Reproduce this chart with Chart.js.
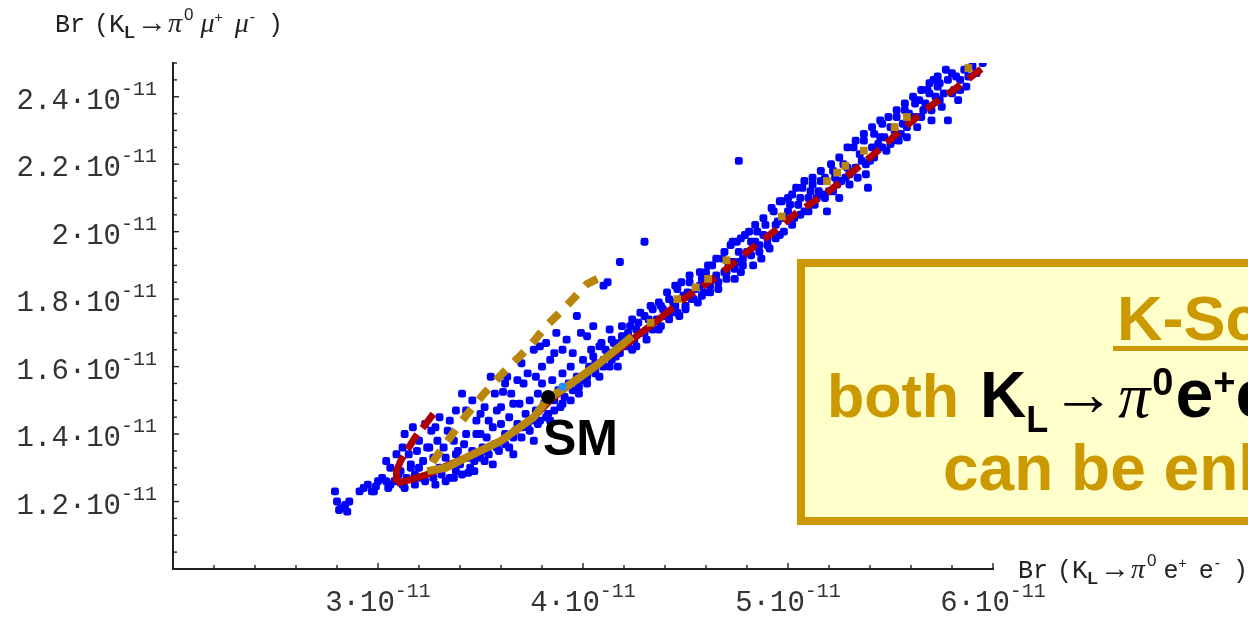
<!DOCTYPE html>
<html>
<head>
<meta charset="utf-8">
<script src="https://cdn.jsdelivr.net/npm/chart.js@4.4.1/dist/chart.umd.min.js"></script>
<style>
  html, body { margin: 0; padding: 0; background: #fff; }
  #wrap { width: 1248px; height: 617px; }
</style>
</head>
<body>
<div id="wrap"><canvas id="brChart" width="1248" height="617"></canvas></div>
<script>
// all branching ratios in units of 1e-11
const xTickValues = [3, 4, 5, 6];
const yTickValues = [1.2, 1.4, 1.6, 1.8, 2, 2.2, 2.4];

const smPoint = [3.83, 1.51];
const cyanPoint = [3.90, 1.54];

// scan points: [Br(KL->pi0 e+e-), Br(KL->pi0 mu+mu-)]
const bluePoints = [
  [2.79,1.23],[2.80,1.20],[2.82,1.18],[2.84,1.19],[2.86,1.20],[2.85,1.17],[2.81,1.175],[2.91,1.23],
  [2.93,1.24],[2.95,1.25],[2.97,1.23],[2.99,1.245],[3.00,1.26],[2.98,1.23],
  [3.02,1.27],[3.04,1.26],[3.04,1.32],[3.06,1.25],[3.08,1.26],[3.10,1.28],[3.11,1.29],[3.12,1.25],
  [3.14,1.27],[3.16,1.30],[3.16,1.31],[3.15,1.34],[3.19,1.35],[3.18,1.28],[3.20,1.30],[3.22,1.32],[3.21,1.27],
  [3.23,1.43],[3.26,1.41],[3.25,1.36],[3.27,1.33],[3.29,1.38],[3.30,1.30],[3.32,1.36],[3.31,1.28],
  [3.34,1.41],[3.33,1.33],[3.35,1.27],[3.36,1.31],[3.37,1.38],[3.38,1.34],[3.39,1.35],[3.38,1.29],[3.40,1.31],
  [3.41,1.52],[3.42,1.37],[3.43,1.40],[3.44,1.33],[3.45,1.30],[3.46,1.35],[3.47,1.29],[3.48,1.44],
  [3.50,1.46],[3.50,1.40],[3.51,1.36],[3.52,1.32],[3.53,1.39],[3.54,1.34],[3.55,1.57],[3.56,1.42],
  [3.56,1.31],[3.57,1.37],[3.58,1.47],[3.59,1.35],[3.60,1.43],
  [3.61,1.525],[3.62,1.40],[3.63,1.57],[3.64,1.45],[3.64,1.36],[3.66,1.49],[3.66,1.34],[3.67,1.41],
  [3.68,1.43],[3.69,1.49],[3.70,1.61],[3.70,1.39],[3.72,1.46],[3.73,1.42],[3.74,1.50],[3.75,1.44],
  [3.76,1.38],[3.76,1.65],[3.77,1.47],[3.78,1.52],[3.79,1.66],[3.79,1.44],
  [3.80,1.55],[3.81,1.49],[3.82,1.67],[3.83,1.46],[3.84,1.44],[3.85,1.56],[3.86,1.50],[3.87,1.70],
  [3.88,1.53],[3.89,1.48],[3.90,1.58],[3.91,1.51],[3.93,1.55],[3.94,1.60],[3.95,1.53],[3.95,1.64],
  [3.97,1.75],[3.97,1.57],[3.98,1.52],[4.00,1.62],[4.00,1.56],
  [4.02,1.55],[4.03,1.60],[4.05,1.63],[4.06,1.58],[4.08,1.66],[4.08,1.57],[4.10,1.62],[4.11,1.65],
  [4.13,1.71],[4.13,1.60],[4.15,1.67],[4.16,1.63],[4.17,1.60],[4.18,1.91],[4.19,1.69],[4.20,1.66],
  [4.10,1.84],[4.12,1.85],
  [4.22,1.70],[4.23,1.72],[4.24,1.65],[4.25,1.68],[4.27,1.73],[4.28,1.70],[4.30,1.97],[4.30,1.75],
  [4.31,1.68],[4.33,1.72],[4.34,1.77],[4.36,1.74],[4.37,1.71],[4.38,1.78],[4.40,1.75],
  [4.42,1.80],[4.43,1.76],[4.45,1.78],[4.46,1.83],[4.47,1.75],[4.49,1.81],[4.50,1.78],[4.52,1.85],
  [4.53,1.80],[4.55,1.83],[4.56,1.79],[4.58,1.86],[4.59,1.82],[4.60,1.88],
  [4.62,1.84],[4.63,1.90],[4.65,1.87],[4.66,1.83],[4.68,1.92],[4.69,1.88],[4.70,1.86],[4.72,1.96],
  [4.73,1.91],[4.74,1.89],[4.75,1.97],[4.76,1.94],[4.77,1.88],[4.78,1.92],[4.79,1.99],[4.80,1.94],
  [4.76,2.21],
  [4.82,1.97],[4.83,1.90],[4.85,2.00],[4.86,1.96],[4.87,1.92],[4.89,2.02],[4.90,1.98],[4.91,1.95],
  [4.93,2.06],[4.94,2.02],[4.96,1.99],[4.97,2.09],[4.98,2.04],[5.00,2.06],
  [5.02,2.11],[5.03,2.04],[5.05,2.08],[5.07,2.13],[5.08,2.06],[5.10,2.10],[5.12,2.14],[5.13,2.08],
  [5.15,2.12],[5.17,2.11],[5.18,2.16],[5.20,2.12],[5.19,2.06],
  [5.22,2.18],[5.24,2.14],[5.25,2.10],[5.27,2.20],[5.28,2.16],[5.30,2.17],[5.32,2.25],[5.33,2.19],
  [5.35,2.23],[5.37,2.27],[5.38,2.17],[5.39,2.13],[5.40,2.21],
  [5.42,2.29],[5.44,2.26],[5.46,2.32],[5.47,2.28],[5.48,2.24],[5.50,2.31],[5.51,2.27],[5.53,2.34],
  [5.55,2.29],[5.56,2.32],[5.57,2.36],[5.58,2.28],[5.60,2.33],
  [5.62,2.38],[5.63,2.31],[5.65,2.34],[5.67,2.38],[5.68,2.42],[5.70,2.36],[5.71,2.45],[5.72,2.40],
  [5.74,2.44],[5.75,2.37],[5.76,2.41],[5.78,2.45],[5.78,2.33],
  [5.80,2.47],[5.81,2.42],[5.83,2.39],[5.84,2.45],[5.86,2.48],[5.87,2.43],[5.88,2.46],[5.90,2.49],
  [5.92,2.47],[5.95,2.50]
];

// denser part of the scan around the turning points and along the band
const blueBand = [
  [3.05,1.24],[3.13,1.24],[3.18,1.25],[3.23,1.26],[3.27,1.27],[3.28,1.25],[3.33,1.26],[3.37,1.27],
  [3.41,1.28],[3.44,1.285],[3.06,1.30],[3.09,1.34],[3.12,1.36],[3.13,1.40],[3.17,1.42],[3.20,1.38],
  [3.24,1.36],[3.28,1.42],[3.30,1.45],[3.35,1.44],[3.38,1.47],[3.43,1.47],[3.46,1.50],[3.48,1.40],
  [3.52,1.48],[3.54,1.44],[3.57,1.52],[3.60,1.48],[3.62,1.55],[3.65,1.52],[3.68,1.56],[3.71,1.55],
  [3.73,1.58],[3.77,1.57],[3.80,1.60],[3.84,1.62],[3.86,1.64],[3.90,1.65],[3.92,1.68],[3.99,1.70],
  [4.02,1.69],[4.05,1.72],
  [3.47,1.32],[3.50,1.33],[3.53,1.35],[3.58,1.36],[3.62,1.37],[3.66,1.39],[3.70,1.42],[3.74,1.41],
  [3.78,1.43],[3.82,1.45],[3.86,1.47],[3.90,1.49],[3.94,1.50],[3.98,1.54],[4.02,1.57],[4.06,1.59],
  [4.10,1.60],[4.14,1.62],[4.18,1.64],[4.22,1.66],[4.26,1.66],[4.30,1.70],[4.34,1.71],[4.38,1.72],
  [4.42,1.74],[4.46,1.76],[4.50,1.77],[4.54,1.80],[4.58,1.81],[4.62,1.82],[4.66,1.85],[4.70,1.88],
  [4.74,1.86],[4.78,1.90],[4.82,1.93],[4.86,1.94],[4.90,1.96],[4.94,1.98],[4.98,2.00],[5.02,2.02],
  [5.06,2.05],[5.10,2.06],[5.14,2.10],[5.18,2.10],[5.22,2.12],[5.26,2.15],[5.30,2.14],[5.34,2.16],
  [5.38,2.20],[5.42,2.22],[5.46,2.25],[5.50,2.26],[5.54,2.27],[5.58,2.31],[5.62,2.34],[5.66,2.36],
  [5.70,2.33],[5.74,2.39],[5.80,2.41],[5.84,2.42],
  [4.04,1.65],[4.09,1.67],[4.14,1.68],[4.19,1.72],[4.24,1.74],[4.28,1.76],[4.33,1.78],[4.37,1.79],
  [4.41,1.82],[4.45,1.84],[4.48,1.85],[4.52,1.87],[4.57,1.88],[4.61,1.90],[4.65,1.92],[4.69,1.94],
  [4.73,1.97],[4.77,1.98],[4.81,2.00],[4.84,2.02],[4.88,2.04],[4.92,2.07],[4.96,2.09],[5.00,2.10],
  [5.04,2.13],[5.08,2.15],[5.12,2.16],[5.16,2.18],[5.21,2.20],[5.25,2.22],[5.29,2.25],[5.33,2.27],
  [5.37,2.29],[5.41,2.31],[5.45,2.33],[5.49,2.34],[5.53,2.36],[5.57,2.38],[5.61,2.40],[5.65,2.42],
  [5.69,2.44],[5.73,2.46],[5.77,2.48],
  [4.06,1.61],[4.12,1.64],[4.18,1.67],[4.26,1.71],[4.32,1.74],[4.39,1.77],[4.44,1.79],[4.51,1.82],
  [4.57,1.84],[4.64,1.86],[4.71,1.90],[4.76,1.91],[4.84,1.97],[4.88,1.99],[4.95,2.03],[5.01,2.08],
  [5.06,2.10],[5.11,2.12],[5.16,2.15],[5.23,2.16],[5.29,2.19],[5.36,2.21],[5.41,2.25],[5.45,2.28],
  [5.52,2.30],[5.59,2.35],[5.64,2.39],[5.69,2.41],[5.73,2.43],[5.82,2.46]
];

// red branch: short upper arm, turning point, then along the band
const redCurve = [
  [3.27,1.46],[3.22,1.42],[3.18,1.39],[3.15,1.36],[3.11,1.32],[3.09,1.29],[3.09,1.255],
  [3.16,1.265],[3.24,1.28],[3.35,1.31],[3.43,1.33],[3.60,1.38],[3.76,1.45],[3.84,1.50],[3.92,1.54],
  [4.08,1.61],[4.24,1.68],[4.38,1.745],[4.49,1.80],[4.65,1.865],[4.77,1.925],[4.93,2.0],[5.04,2.055],
  [5.19,2.115],[5.32,2.18],[5.42,2.23],[5.55,2.30],[5.69,2.37],[5.83,2.43],[5.96,2.49]
];
const redTurn = 6;

// gold branch: upper arm, turning point, lower arm, then sparse points up the band
const goldCurve = [
  [4.07,1.86],[4.02,1.845],[3.92,1.78],[3.82,1.72],[3.74,1.66],[3.60,1.575],[3.51,1.515],[3.41,1.44],
  [3.34,1.38],[3.27,1.32],[3.24,1.29],
  [3.33,1.30],[3.43,1.33],[3.60,1.38],[3.76,1.45],[3.83,1.505],[3.92,1.54],[4.08,1.61],[4.24,1.69],
  [4.33,1.73],[4.46,1.80],[4.55,1.835],[4.61,1.86],[4.70,1.915],[4.97,2.045],[5.19,2.15],[5.24,2.175],
  [5.28,2.195],[5.37,2.24],[5.52,2.31],[5.58,2.34],[5.88,2.485]
];
const goldTurn = 10;

const GOLD = '#CC9900';
const MONO = '"Liberation Mono", "DejaVu Sans Mono", monospace';
const SANS = '"Liberation Sans", Arial, sans-serif';
const SERIF = '"Liberation Serif", "DejaVu Serif", serif';

const toXY = arr => arr.map(([x, y]) => ({ x, y }));

function fmt(v) {
  return String(Number(v.toFixed(1)));
}

// draws a run of text pieces one after another, returns end x
function drawRich(ctx, x, baseline, parts) {
  parts.forEach(p => {
    x += p.gap || 0;
    ctx.font = p.font;
    ctx.fillStyle = p.color || '#222';
    ctx.fillText(p.t, x, baseline + (p.dy || 0));
    x += ctx.measureText(p.t).width;
  });
  return x;
}

function richWidth(ctx, parts) {
  let w = 0;
  parts.forEach(p => { ctx.font = p.font; w += (p.gap || 0) + ctx.measureText(p.t).width; });
  return w;
}

function tickParts(v) {
  return [
    { t: fmt(v) + '\u00b710', font: '29px ' + MONO, color: '#333' },
    { t: '-11', font: '20px ' + MONO, dy: -14, color: '#333' }
  ];
}

const decor = {
  id: 'decor',
  afterDatasetsDraw(chart) {
    const ctx = chart.ctx;
    const xs = chart.scales.x, ys = chart.scales.y, area = chart.chartArea;
    ctx.save();
    ctx.textBaseline = 'alphabetic';
    ctx.textAlign = 'left';

    // inward tick marks
    ctx.strokeStyle = '#222';
    ctx.lineWidth = 1.4;
    xs.ticks.forEach(t => {
      if (t.value <= xs.min + 1e-6) return;
      const major = Math.abs(t.value - Math.round(t.value)) < 1e-6;
      const px = xs.getPixelForValue(t.value);
      ctx.beginPath();
      ctx.moveTo(px, area.bottom);
      ctx.lineTo(px, area.bottom - (major ? 6 : 4));
      ctx.stroke();
    });
    ys.ticks.forEach(t => {
      if (t.value <= ys.min + 1e-6) return;
      const major = Math.abs(t.value * 5 - Math.round(t.value * 5)) < 1e-6;
      const py = ys.getPixelForValue(t.value);
      ctx.beginPath();
      ctx.moveTo(area.left, py);
      ctx.lineTo(area.left + (major ? 6 : 4), py);
      ctx.stroke();
    });

    // tick labels
    xTickValues.forEach(v => {
      const parts = tickParts(v);
      const w = richWidth(ctx, parts);
      const px = xs.getPixelForValue(v);
      drawRich(ctx, px - w / 2, 611, parts);
    });
    yTickValues.forEach(v => {
      const parts = tickParts(v);
      const w = richWidth(ctx, parts);
      const py = ys.getPixelForValue(v);
      drawRich(ctx, 157 - w, py + 12, parts);
    });

    // axis titles
    const title = (lepton, italic) => [
      { t: 'Br', font: '25px ' + MONO },
      { t: '(', font: '25px ' + MONO, gap: 9 },
      { t: 'K', font: '26px ' + MONO },
      { t: 'L', font: 'bold 17px ' + SANS, dy: 6 },
      { t: '\u2192', font: '30px ' + SERIF, gap: 2 },
      { t: '\u03c0', font: 'italic 28px ' + SERIF, gap: 1 },
      { t: '0', font: '17px ' + SANS, dy: -12, gap: 2 },
      { t: lepton, font: italic ? 'italic 28px ' + SERIF : '25px ' + MONO, gap: 7 },
      { t: '+', font: '14px ' + SANS, dy: -10 },
      { t: lepton, font: italic ? 'italic 28px ' + SERIF : '25px ' + MONO, gap: 12 },
      { t: '-', font: '16px ' + SANS, dy: -10, gap: 1 },
      { t: ')', font: '25px ' + MONO, gap: 13 }
    ];
    drawRich(ctx, 55, 32, title('\u03bc', true));
    drawRich(ctx, 1018, 578, title('e', false));

    // SM label
    ctx.font = 'bold 50px ' + SANS;
    ctx.fillStyle = '#000';
    ctx.fillText('SM', 543, 455);

    // highlighted note box
    ctx.fillStyle = '#FFFFCC';
    ctx.fillRect(801, 263, 600, 258);
    ctx.strokeStyle = GOLD;
    ctx.lineWidth = 8;
    ctx.strokeRect(801, 263, 600, 258);

    ctx.font = 'bold 63px ' + SANS;
    ctx.fillStyle = GOLD;
    ctx.fillText('K-Scenario', 1117, 340);
    ctx.fillRect(1113, 346, ctx.measureText('K-Scenario').width + 4, 5);

    const black = '#000';
    drawRich(ctx, 827, 417, [
      { t: 'both ', font: 'bold 61px ' + SANS, color: GOLD },
      { t: 'K', font: 'bold 64px ' + SANS, color: black, gap: 4 },
      { t: 'L', font: 'bold 36px ' + SANS, color: black, dy: 15 },
      { t: '\u2192', font: '64px ' + SERIF, color: black, dy: -2, gap: 3 },
      { t: '\u03c0', font: 'italic 64px ' + SERIF, color: black, gap: 3 },
      { t: '0', font: 'bold 38px ' + SANS, color: black, dy: -22, gap: 2 },
      { t: 'e', font: 'bold 68px ' + SANS, color: black, gap: 2 },
      { t: '+', font: 'bold 38px ' + SANS, color: black, dy: -22 },
      { t: 'e', font: 'bold 68px ' + SANS, color: black },
      { t: '\u2212', font: 'bold 38px ' + SANS, color: black, dy: -22 }
    ]);
    ctx.font = 'bold 64px ' + SANS;
    ctx.fillStyle = GOLD;
    ctx.fillText('can be enhanced', 943, 490);

    ctx.restore();
  }
};

const blueStyle = {
  pointStyle: 'rectRounded',
  pointRadius: 4.6,
  backgroundColor: '#0000FF',
  borderWidth: 0,
  order: 4
};

new Chart(document.getElementById('brChart'), {
  type: 'scatter',
  data: {
    datasets: [
      {
        label: 'SM',
        data: toXY([smPoint]),
        pointStyle: 'circle',
        pointRadius: 7,
        backgroundColor: '#000',
        borderWidth: 0,
        order: 0
      },
      {
        label: 'SM neighbour',
        data: toXY([cyanPoint]),
        pointStyle: 'circle',
        pointRadius: 4,
        backgroundColor: '#1E90FF',
        borderWidth: 0,
        order: 1
      },
      {
        label: 'gold',
        data: toXY(goldCurve),
        showLine: true,
        borderColor: '#B8860B',
        backgroundColor: '#B8860B',
        borderWidth: 8,
        borderCapStyle: 'butt',
        pointStyle: 'rect',
        pointBorderWidth: 0,
        pointRadius: ctx => (ctx.raw && ctx.raw.x > 4.3 && ctx.dataIndex > goldTurn ? 5.5 : 0),
        segment: {
          borderDash: ctx => (ctx.p0DataIndex < goldTurn ? [14, 12] : undefined),
          borderColor: ctx => (ctx.p0DataIndex > goldTurn && ctx.p0.parsed.x >= 4.24 ? 'rgba(0,0,0,0)' : undefined)
        },
        order: 2
      },
      {
        label: 'red',
        data: toXY(redCurve),
        showLine: true,
        borderColor: '#B00000',
        backgroundColor: '#B00000',
        borderWidth: 7,
        borderCapStyle: 'butt',
        pointRadius: 0,
        segment: {
          borderDash: ctx => {
            if (ctx.p0DataIndex < redTurn) return [18, 8];
            if (ctx.p0.parsed.x > 4.3) return [16, 10];
            return undefined;
          }
        },
        order: 3
      },
      Object.assign({ label: 'scan', data: toXY(bluePoints) }, blueStyle),
      Object.assign({ label: 'scan band', data: toXY(blueBand) }, blueStyle)
    ]
  },
  options: {
    responsive: false,
    animation: false,
    devicePixelRatio: 1,
    layout: { padding: { top: 63, right: 255, left: 0, bottom: 0 } },
    plugins: { legend: { display: false }, tooltip: { enabled: false } },
    scales: {
      x: {
        type: 'linear',
        min: 2,
        max: 6,
        ticks: { display: false, stepSize: 0.2, maxTicksLimit: 100 },
        grid: { display: false },
        border: { display: true, color: '#222', width: 2 },
        afterFit: s => { s.height = 48; }
      },
      y: {
        type: 'linear',
        min: 1,
        max: 2.5,
        ticks: { display: false, stepSize: 0.05, maxTicksLimit: 100 },
        grid: { display: false },
        border: { display: true, color: '#222', width: 2 },
        afterFit: s => { s.width = 173; }
      }
    }
  },
  plugins: [decor]
});
</script>
</body>
</html>
